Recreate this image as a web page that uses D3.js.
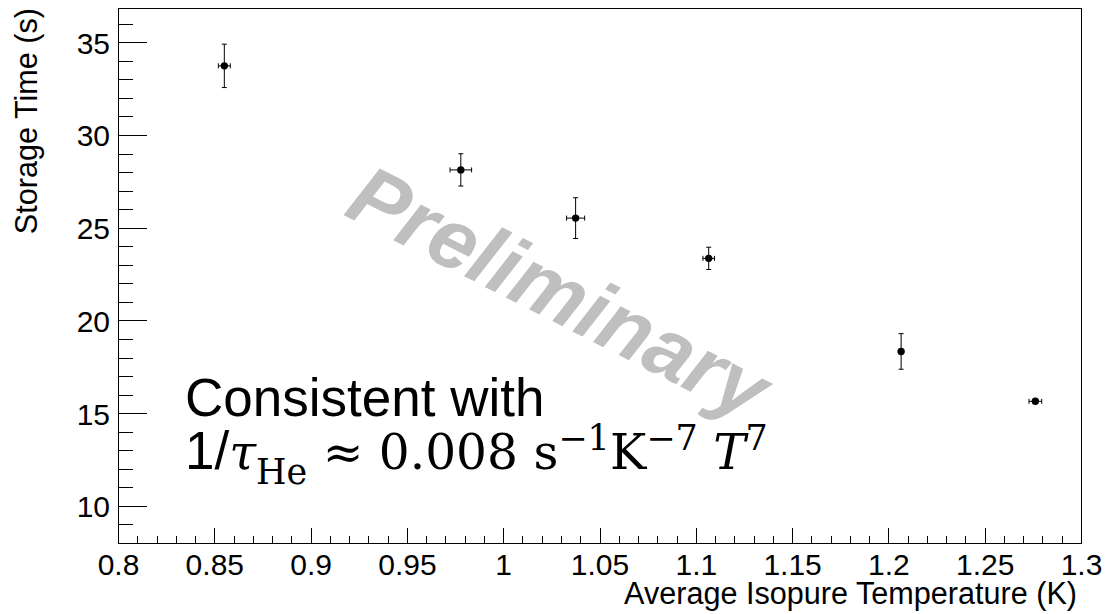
<!DOCTYPE html>
<html>
<head>
<meta charset="utf-8">
<script src="https://cdn.jsdelivr.net/npm/d3@7"></script>
<style>
  html, body { margin: 0; padding: 0; background: #fff; }
  svg { display: block; }
</style>
</head>
<body>
<svg id="chart" width="1107" height="614"></svg>
<script>
// ---- data ----
const temperature = [0.8552, 0.9780, 1.0376, 1.1067, 1.2066, 1.2763];
const temperatureErr = [0.0031, 0.0056, 0.0047, 0.0030, 0.0008, 0.0033];
const storageTime = [33.73, 28.12, 25.52, 23.35, 18.33, 15.64];
const storageTimeErr = [1.17, 0.87, 1.10, 0.60, 0.96, 0.10];

const xTickValues = [0.8, 0.85, 0.9, 0.95, 1.0, 1.05, 1.1, 1.15, 1.2, 1.25, 1.3];
const xTickLabels = ["0.8", "0.85", "0.9", "0.95", "1", "1.05", "1.1", "1.15", "1.2", "1.25", "1.3"];
const yTickValues = [10, 15, 20, 25, 30, 35];
const yTickLabels = ["10", "15", "20", "25", "30", "35"];

const xTitle = "Average Isopure Temperature (K)";
const yTitle = "Storage Time (s)";
const watermark = "Preliminary";
const noteLine1 = "Consistent with";

// ---- layout ----
const plotL = 118, plotR = 1081, plotT = 8, plotB = 543;
const sans = "'Liberation Sans', Arial, Helvetica, sans-serif";
const serif = "'DejaVu Serif', 'Liberation Serif', serif";
const fsTick = 30, fsTitle = 30.6;

const svg = d3.select("#chart");

const x = d3.scaleLinear().domain([0.8, 1.3]).range([plotL, plotR]);
const y = d3.scaleLinear().domain([8, 36.85]).range([plotB, plotT]);

// watermark (behind)
svg.append("text")
  .attr("transform", "translate(546,318) rotate(27)")
  .attr("text-anchor", "middle")
  .attr("font-family", sans)
  .attr("font-weight", "bold")
  .attr("font-style", "italic")
  .attr("font-size", 84)
  .attr("fill", "#bfbfbf")
  .text(watermark);

// minor ticks y
const yMinor = d3.range(8, 37, 1).filter(v => v % 5 !== 0);
svg.append("g")
  .attr("transform", `translate(${plotL},0)`)
  .call(d3.axisLeft(y).tickValues(yMinor).tickSize(-15).tickFormat(""))
  .call(g => g.select(".domain").remove())
  .call(g => g.selectAll("line").attr("stroke", "#000").attr("shape-rendering", "crispEdges"));

// major y
svg.append("g")
  .attr("transform", `translate(${plotL},0)`)
  .call(d3.axisLeft(y).tickValues(yTickValues).tickSize(-29).tickPadding(8)
        .tickFormat((d, i) => yTickLabels[i]))
  .call(g => g.select(".domain").remove())
  .call(g => g.selectAll("line").attr("stroke", "#000").attr("shape-rendering", "crispEdges"))
  .call(g => g.selectAll("text")
      .attr("font-family", sans).attr("font-size", fsTick).attr("fill", "#000")
      .attr("dy", "0.36em"));

// minor ticks x
const xMinor = d3.range(0, 51).filter(i => i % 5 !== 0).map(i => 0.8 + i * 0.01);
svg.append("g")
  .attr("transform", `translate(0,${plotB})`)
  .call(d3.axisBottom(x).tickValues(xMinor).tickSize(-7.5).tickFormat(""))
  .call(g => g.select(".domain").remove())
  .call(g => g.selectAll("line").attr("stroke", "#000").attr("shape-rendering", "crispEdges"));

// major x
svg.append("g")
  .attr("transform", `translate(0,${plotB})`)
  .call(d3.axisBottom(x).tickValues(xTickValues).tickSize(-15).tickPadding(11)
        .tickFormat((d, i) => xTickLabels[i]))
  .call(g => g.select(".domain").remove())
  .call(g => g.selectAll("line").attr("stroke", "#000").attr("shape-rendering", "crispEdges"))
  .call(g => g.selectAll("text")
      .attr("font-family", sans).attr("font-size", fsTick).attr("fill", "#000"));

// frame
svg.append("rect")
  .attr("x", plotL).attr("y", plotT)
  .attr("width", plotR - plotL).attr("height", plotB - plotT)
  .attr("fill", "none").attr("stroke", "#000").attr("stroke-width", 1)
  .attr("shape-rendering", "crispEdges");

// axis titles
svg.append("text")
  .attr("x", 1077).attr("y", 604)
  .attr("text-anchor", "end")
  .attr("font-family", sans).attr("font-size", fsTitle)
  .text(xTitle);

svg.append("text")
  .attr("transform", "translate(37,8) rotate(-90)")
  .attr("text-anchor", "end")
  .attr("font-family", sans).attr("font-size", fsTitle)
  .text(yTitle);

// data
const pts = temperature.map((t, i) => ({
  t, te: temperatureErr[i], s: storageTime[i], se: storageTimeErr[i]
}));
const cap = 2.5;
const eb = svg.append("g").attr("stroke", "#000").attr("stroke-width", 1);
pts.forEach(p => {
  const cx = x(p.t), cy = y(p.s);
  eb.append("line").attr("x1", cx).attr("x2", cx).attr("y1", y(p.s - p.se)).attr("y2", y(p.s + p.se));
  eb.append("line").attr("x1", cx - cap).attr("x2", cx + cap).attr("y1", y(p.s + p.se)).attr("y2", y(p.s + p.se));
  eb.append("line").attr("x1", cx - cap).attr("x2", cx + cap).attr("y1", y(p.s - p.se)).attr("y2", y(p.s - p.se));
  eb.append("line").attr("x1", x(p.t - p.te)).attr("x2", x(p.t + p.te)).attr("y1", cy).attr("y2", cy);
  eb.append("line").attr("x1", x(p.t - p.te)).attr("x2", x(p.t - p.te)).attr("y1", cy - cap).attr("y2", cy + cap);
  eb.append("line").attr("x1", x(p.t + p.te)).attr("x2", x(p.t + p.te)).attr("y1", cy - cap).attr("y2", cy + cap);
});
svg.append("g").selectAll("circle").data(pts).join("circle")
  .attr("cx", d => x(d.t)).attr("cy", d => y(d.s)).attr("r", 3.7).attr("fill", "#000");

// annotation
svg.append("text")
  .attr("x", 185).attr("y", 416)
  .attr("font-family", sans).attr("font-size", 53)
  .text(noteLine1);

const eq = svg.append("text").attr("x", 185).attr("y", 469).attr("fill", "#000");
function buildEq(F) {
  eq.selectAll("tspan").remove();
  function span(txt, opts) {
    const s = eq.append("tspan").text(txt)
      .attr("font-family", opts.fam || serif)
      .attr("font-size", opts.size || F);
    if (opts.italic) s.attr("font-style", "italic");
    if (opts.dy) s.attr("dy", opts.dy);
    return s;
  }
  span("1/", { fam: sans, size: 53 });
  span("τ", { italic: true });
  span("He", { size: F * 0.72, dy: F * 0.3 });
  span(" ≈ 0.008 s", { dy: -F * 0.3 });
  span("−1", { size: F * 0.72, dy: -F * 0.4 });
  span("K", { dy: F * 0.4 });
  span("−7", { size: F * 0.72, dy: -F * 0.4 });
  span(" ", { dy: F * 0.4 });
  span("T", { italic: true });
  span("7", { size: F * 0.72, dy: -F * 0.4 });
}
buildEq(46);
const targetW = 583;
const w0 = eq.node().getBBox().width;
const w1 = 53 * 0.834; // approx width of "1/" in sans
const Fadj = 46 * (targetW - w1) / (w0 - w1);
buildEq(Fadj);
</script>
</body>
</html>
